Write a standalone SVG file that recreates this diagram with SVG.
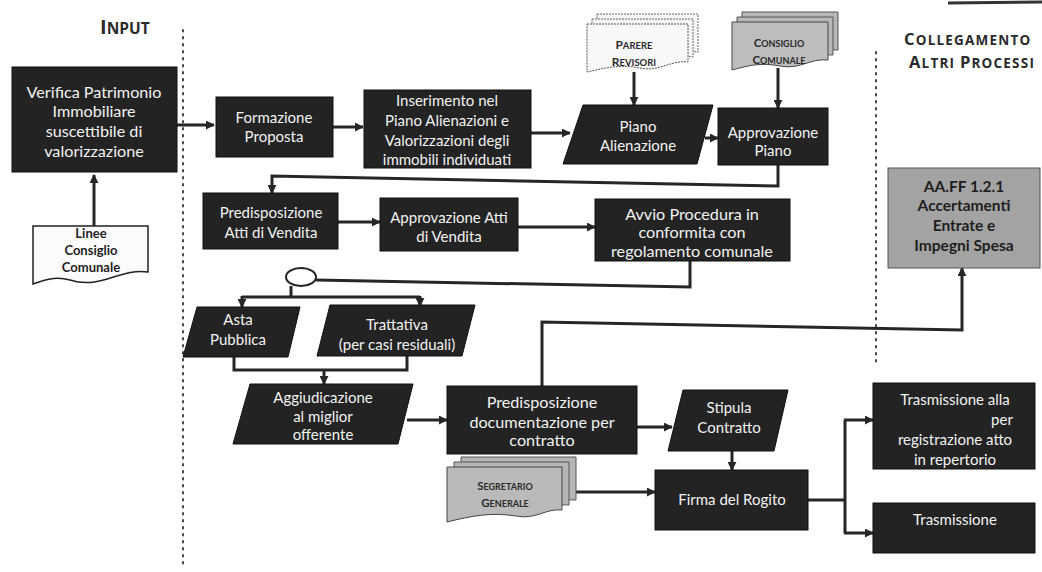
<svg xmlns="http://www.w3.org/2000/svg" width="1042" height="572" viewBox="0 0 1042 572">
  <defs>
    <style>
      .box { fill: #232323; stroke: #111; stroke-width: 1; }
      .gray { fill: #a3a3a3; stroke: #555; stroke-width: 1; }
      .t { font-family: Lato, "Open Sans", "Liberation Sans", sans-serif; font-size: 15px; fill: #f2f2f2; text-anchor: middle; }
      .t16 { font-size: 16.2px; }
      .td { font-family: Lato, "Open Sans", "Liberation Sans", sans-serif; font-size: 13px; font-weight: bold; fill: #1e1e1e; text-anchor: middle; }
      .td15 { font-size: 15.5px; }
      .sc { font-family: Lato, "Open Sans", "Liberation Sans", sans-serif; font-weight: bold; fill: #2a2a2a; text-anchor: middle; }
      .hd { font-family: "Open Sans", Lato, "Liberation Sans", sans-serif; font-weight: bold; fill: #2b2b2b; }
      .hd2 { letter-spacing: 1.2px; }
      .conn { fill: none; stroke: #262626; stroke-width: 3; }
      .dots { fill: none; stroke: #444; stroke-width: 2; stroke-dasharray: 1.5 5.5; stroke-linecap: round; }
    </style>
    <marker id="arrow" viewBox="0 0 10 10" refX="9" refY="5" markerWidth="9" markerHeight="9" markerUnits="userSpaceOnUse" orient="auto">
      <path d="M0,0 L10,5 L0,10 z" fill="#262626"/>
    </marker>
  </defs>

  <rect width="1042" height="572" fill="#ffffff"/>

  <!-- page edge at top right -->
  <line x1="948" y1="3" x2="1042" y2="2" stroke="#333" stroke-width="3"/>

  <!-- column separators -->
  <line class="dots" x1="183" y1="30" x2="183" y2="566"/>
  <line class="dots" x1="876" y1="52" x2="876" y2="366"/>

  <!-- column headers -->
  <text class="hd" x="100" y="34"><tspan font-size="20">I</tspan><tspan font-size="15.5">NPUT</tspan></text>
  <text class="hd hd2" x="904" y="45"><tspan font-size="16.5">C</tspan><tspan font-size="13.5">OLLEGAMENTO</tspan></text>
  <text class="hd hd2" x="909" y="68"><tspan font-size="16.5">A</tspan><tspan font-size="13.5">LTRI </tspan><tspan font-size="16.5">P</tspan><tspan font-size="13.5">ROCESSI</tspan></text>

  <!-- connectors -->
  <g id="connectors">
    <path class="conn" d="M94,226 V175" marker-end="url(#arrow)"/>
    <path class="conn" d="M177,125 H214" marker-end="url(#arrow)"/>
    <path class="conn" d="M333,127 H363" marker-end="url(#arrow)"/>
    <path class="conn" d="M531,133 H570" marker-end="url(#arrow)"/>
    <path class="conn" d="M634,72 V105" marker-end="url(#arrow)"/>
    <path class="conn" d="M705,138 H718" marker-end="url(#arrow)"/>
    <path class="conn" d="M778,68 V108" marker-end="url(#arrow)"/>
    <path class="conn" d="M778,165 V186 L272,176 V193" marker-end="url(#arrow)"/>
    <path class="conn" d="M338,222 H380" marker-end="url(#arrow)"/>
    <path class="conn" d="M518,227 H595" marker-end="url(#arrow)"/>
    <path class="conn" d="M690,261 V287 L316,280"/>
    <path class="conn" d="M291,286 V297 M242,297 H420"/>
    <path class="conn" d="M242,296 V307" marker-end="url(#arrow)"/>
    <path class="conn" d="M420,296 V306" marker-end="url(#arrow)"/>
    <path class="conn" d="M234,357 V370 H407 V356"/>
    <path class="conn" d="M324,369 V384" marker-end="url(#arrow)"/>
    <path class="conn" d="M407,420 H447" marker-end="url(#arrow)"/>
    <path class="conn" d="M542,386 V322 L962,330 V268" marker-end="url(#arrow)"/>
    <path class="conn" d="M637,427 H672" marker-end="url(#arrow)"/>
    <path class="conn" d="M732,451 V470" marker-end="url(#arrow)"/>
    <path class="conn" d="M576,492 H655" marker-end="url(#arrow)"/>
    <path class="conn" d="M808,500 H845 M845,420 V533"/>
    <path class="conn" d="M844,420 H873" marker-end="url(#arrow)"/>
    <path class="conn" d="M844,533 H873" marker-end="url(#arrow)"/>
  </g>

  <!-- input column -->
  <g id="verifica">
    <rect class="box" x="12" y="67" width="165" height="105"/>
    <text class="t t16" x="94" y="98">Verifica Patrimonio</text>
    <text class="t t16" x="94" y="117">Immobiliare</text>
    <text class="t t16" x="94" y="137">suscettibile di</text>
    <text class="t t16" x="94" y="157">valorizzazione</text>
  </g>
  <g id="linee">
    <path d="M33,226 H148 V272 C120,268 100,290 70,280 C55,276 44,280 33,284 Z" fill="#fbfbfb" stroke="#222" stroke-width="1.5"/>
    <text class="td" x="91" y="238">Linee</text>
    <text class="td" x="91" y="255">Consiglio</text>
    <text class="td" x="91" y="272">Comunale</text>
  </g>

  <!-- plan preparation -->
  <g id="formazione">
    <rect class="box" x="216" y="97" width="117" height="60"/>
    <text class="t" x="274" y="123">Formazione</text>
    <text class="t" x="274" y="142">Proposta</text>
  </g>
  <g id="inserimento">
    <rect class="box" x="364" y="90" width="167" height="78"/>
    <text class="t" x="447" y="106">Inserimento nel</text>
    <text class="t" x="447" y="126">Piano Alienazioni e</text>
    <text class="t" x="447" y="146">Valorizzazioni degli</text>
    <text class="t" x="447" y="165">immobili individuati</text>
  </g>
  <g id="parere">
    <path d="M597,14 H698 V52 C680,50 670,62 650,58 C630,54 615,58 597,62 Z" fill="#f5f5f5" stroke="#666" stroke-width="1" stroke-dasharray="2 1"/>
    <path d="M592,19 H693 V57 C675,55 665,67 645,63 C625,59 610,63 592,67 Z" fill="#f5f5f5" stroke="#666" stroke-width="1" stroke-dasharray="2 1"/>
    <path d="M587,24 H688 V62 C670,60 660,72 640,68 C620,64 605,68 587,72 Z" fill="#f8f8f8" stroke="#555" stroke-width="1" stroke-dasharray="2 1"/>
    <text class="sc" x="634" y="49"><tspan font-size="12">P</tspan><tspan font-size="9.5">ARERE</tspan></text>
    <text class="sc" x="634" y="66"><tspan font-size="12">R</tspan><tspan font-size="9.5">EVISORI</tspan></text>
  </g>
  <g id="piano-alienazione">
    <polygon class="box" points="583,105 713,105 697,164 563,164"/>
    <text class="t" x="638" y="132">Piano</text>
    <text class="t" x="638" y="151">Alienazione</text>
  </g>
  <g id="consiglio">
    <path d="M742,12 H838 V50 C820,48 810,60 790,56 C770,52 757,56 742,60 Z" fill="#b8b8b8" stroke="#555" stroke-width="1"/>
    <path d="M737,17 H833 V55 C815,53 805,65 785,61 C765,57 752,61 737,65 Z" fill="#b8b8b8" stroke="#555" stroke-width="1"/>
    <path d="M732,22 H828 V60 C810,58 800,70 780,66 C760,62 747,66 732,70 Z" fill="#bdbdbd" stroke="#444" stroke-width="1"/>
    <text class="sc" x="779" y="47"><tspan font-size="11.5">C</tspan><tspan font-size="9">ONSIGLIO</tspan></text>
    <text class="sc" x="779" y="64"><tspan font-size="11.5">C</tspan><tspan font-size="9">OMUNALE</tspan></text>
  </g>
  <g id="approvazione-piano">
    <rect class="box" x="718" y="108" width="110" height="57"/>
    <text class="t" x="773" y="138">Approvazione</text>
    <text class="t" x="773" y="156">Piano</text>
  </g>

  <!-- sale procedure -->
  <g id="predisposizione-atti">
    <rect class="box" x="203" y="193" width="135" height="56"/>
    <text class="t" x="271" y="218">Predisposizione</text>
    <text class="t" x="271" y="238">Atti di Vendita</text>
  </g>
  <g id="approvazione-atti">
    <rect class="box" x="380" y="198" width="138" height="53"/>
    <text class="t" x="449" y="223">Approvazione Atti</text>
    <text class="t" x="449" y="242">di Vendita</text>
  </g>
  <g id="avvio">
    <rect class="box" x="595" y="199" width="195" height="62"/>
    <text class="t t16" x="692" y="220">Avvio Procedura in</text>
    <text class="t t16" x="692" y="238">conformita con</text>
    <text class="t t16" x="692" y="257">regolamento comunale</text>
  </g>
  <g id="scelta">
    <ellipse cx="301" cy="277" rx="15" ry="9" fill="#ffffff" stroke="#222" stroke-width="2"/>
  </g>
  <g id="asta">
    <polygon class="box" points="197,307 300,307 288,357 183,357"/>
    <text class="t" x="238" y="325">Asta</text>
    <text class="t" x="238" y="345">Pubblica</text>
  </g>
  <g id="trattativa">
    <polygon class="box" points="330,305 475,305 462,356 317,356"/>
    <text class="t" x="397" y="330">Trattativa</text>
    <text class="t" x="397" y="350">(per casi residuali)</text>
  </g>
  <g id="aggiudicazione">
    <polygon class="box" points="250,384 413,384 398,444 233,444"/>
    <text class="t" x="323" y="403">Aggiudicazione</text>
    <text class="t" x="323" y="422">al miglior</text>
    <text class="t" x="323" y="440">offerente</text>
  </g>
  <g id="predisposizione-doc">
    <rect class="box" x="447" y="386" width="190" height="68"/>
    <text class="t t16" x="542" y="408">Predisposizione</text>
    <text class="t t16" x="542" y="428">documentazione per</text>
    <text class="t t16" x="542" y="446">contratto</text>
  </g>
  <g id="stipula">
    <polygon class="box" points="683,390 788,390 774,451 668,451"/>
    <text class="t" x="729" y="413">Stipula</text>
    <text class="t" x="729" y="433">Contratto</text>
  </g>
  <g id="segretario">
    <path d="M461,457 H576 V500 C560,498 550,510 530,506 C505,502 485,506 461,510 Z" fill="#b5b5b5" stroke="#555" stroke-width="1"/>
    <path d="M454,462 H569 V505 C553,503 543,515 523,511 C498,507 478,511 454,515 Z" fill="#b5b5b5" stroke="#555" stroke-width="1"/>
    <path d="M447,467 H562 V510 C546,508 536,520 516,516 C491,512 471,516 447,522 Z" fill="#bababa" stroke="#444" stroke-width="1"/>
    <text class="sc" x="505" y="490"><tspan font-size="11.5">S</tspan><tspan font-size="9">EGRETARIO</tspan></text>
    <text class="sc" x="505" y="507"><tspan font-size="11.5">G</tspan><tspan font-size="9">ENERALE</tspan></text>
  </g>
  <g id="firma">
    <rect class="box" x="655" y="470" width="153" height="60"/>
    <text class="t" x="732" y="505">Firma del Rogito</text>
  </g>

  <!-- links to other processes -->
  <g id="aaff">
    <rect class="gray" x="888" y="168" width="152" height="100"/>
    <text class="td td15" x="964" y="192">AA.FF 1.2.1</text>
    <text class="td td15" x="964" y="211">Accertamenti</text>
    <text class="td td15" x="964" y="231">Entrate e</text>
    <text class="td td15" x="964" y="251">Impegni Spesa</text>
  </g>
  <g id="trasmissione-repertorio">
    <rect class="box" x="873" y="383" width="162" height="86"/>
    <text class="t" x="955" y="405">Trasmissione alla</text>
    <text class="t" x="1002" y="425">per</text>
    <text class="t" x="955" y="445">registrazione atto</text>
    <text class="t" x="955" y="465">in repertorio</text>
  </g>
  <g id="trasmissione">
    <rect class="box" x="873" y="503" width="162" height="50"/>
    <text class="t" x="955" y="525">Trasmissione</text>
  </g>
</svg>
